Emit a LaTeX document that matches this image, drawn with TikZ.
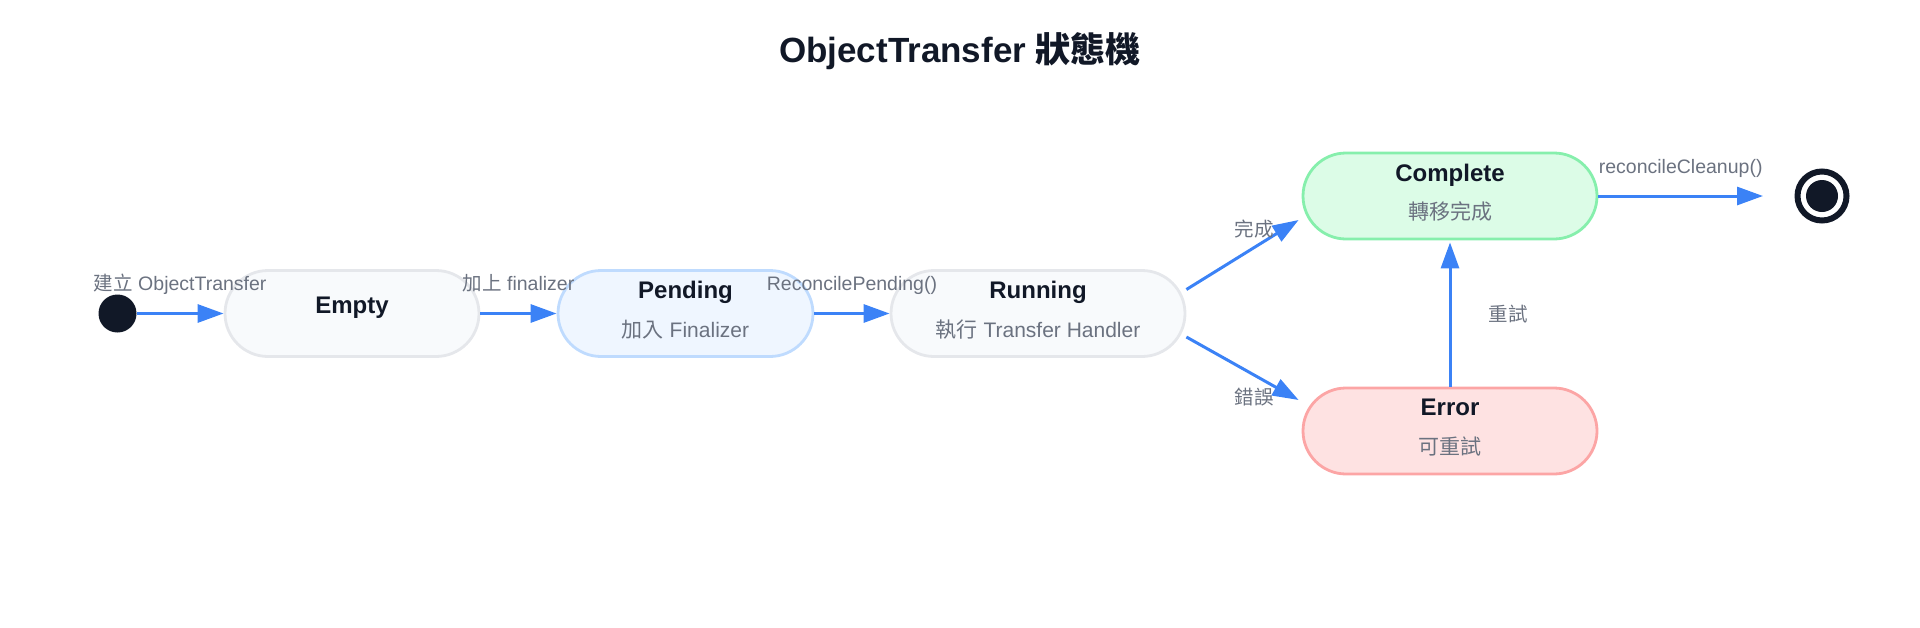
\documentclass[tikz,border=0pt]{standalone}
\usepackage{fontspec}
\setmainfont{Liberation Sans}
\newfontfamily\cjk{Noto Sans CJK TC}
\usetikzlibrary{arrows.meta,positioning,calc}

\definecolor{flowblue}{HTML}{3B82F6}
\definecolor{inkdark}{HTML}{111827}
\definecolor{inkgray}{HTML}{6B7280}
\definecolor{plainfill}{HTML}{F8FAFC}
\definecolor{plainline}{HTML}{E5E7EB}
\definecolor{pendfill}{HTML}{EFF6FF}
\definecolor{pendline}{HTML}{BFDBFE}
\definecolor{donefill}{HTML}{DCFCE7}
\definecolor{doneline}{HTML}{86EFAC}
\definecolor{errfill}{HTML}{FEE2E2}
\definecolor{errline}{HTML}{FCA5A5}

\begin{document}
\begin{tikzpicture}[x=1pt, y=-1pt,
	statebox/.style={rectangle, rounded corners=43pt, minimum height=86pt, line width=2.8pt, inner sep=0},
	statename/.style={text=inkdark, font=\fontsize{24}{28}\selectfont\bfseries, text height=17pt, text depth=0pt, inner sep=0},
	statedesc/.style={text=inkgray, font=\fontsize{21}{25}\selectfont, text height=15pt, text depth=0pt, inner sep=0},
	edgelabel/.style={text=inkgray, font=\fontsize{19.5}{23}\selectfont, text height=14pt, text depth=0pt, inner sep=0},
	flow/.style={draw=flowblue, line width=3pt, -{Triangle[length=26pt,width=18pt]}}]
	\useasboundingbox (0,0) rectangle (1920,627);
	
	% Title
	\node[text=inkdark, font=\fontsize{35}{40}\selectfont\bfseries] (title) at (960,51) {ObjectTransfer {\cjk 狀態機}};
	
	% Start and end points
	\node[circle, fill=inkdark, minimum size=38pt, inner sep=0] (start) at (117.5,313.5) {};
	\node[circle, draw=inkdark, line width=6pt, minimum size=49pt, inner sep=0] (final) at (1822,196) {};
	\node[circle, fill=inkdark, minimum size=32pt, inner sep=0] (finaldot) at (final.center) {};
	
	% States
	\node[statebox, fill=plainfill, draw=plainline, minimum width=254pt] (empty) at (352,313.5) {};
	\node[statebox, fill=pendfill, draw=pendline, minimum width=255pt] (pending) at (685.5,313.5) {};
	\node[statebox, fill=plainfill, draw=plainline, minimum width=294pt] (running) at (1038,313.5) {};
	\node[statebox, fill=donefill, draw=doneline, minimum width=294pt] (complete) at (1450,196) {};
	\node[statebox, fill=errfill, draw=errline, minimum width=294pt] (error) at (1450,431) {};
	
	% State texts
	\node[statename] (emptyname) at ($(empty.center)+(0,-8.5)$) {Empty};
	\node[statename] (pendingname) at ($(pending.center)+(0,-23.5)$) {Pending};
	\node[statedesc] (pendingdesc) at ($(pending.center)+(0,16.5)$) {{\cjk 加入} Finalizer};
	\node[statename] (runningname) at ($(running.center)+(0,-23.5)$) {Running};
	\node[statedesc] (runningdesc) at ($(running.center)+(0,16.5)$) {{\cjk 執行} Transfer Handler};
	\node[statename] (completename) at ($(complete.center)+(0,-23)$) {Complete};
	\node[statedesc] (completedesc) at ($(complete.center)+(0,16)$) {\cjk 轉移完成};
	\node[statename] (errorname) at ($(error.center)+(0,-24.5)$) {Error};
	\node[statedesc] (errordesc) at ($(error.center)+(0,16)$) {\cjk 可重試};
	
	% Transitions
	\draw[flow] (start) -- (empty) node[edgelabel, midway, yshift=30.5pt] (createlabel) {{\cjk 建立} ObjectTransfer};
	\draw[flow] (empty) -- (pending) node[edgelabel, midway, yshift=30.5pt] (finlabel) {{\cjk 加上} finalizer};
	\draw[flow] (pending) -- (running) node[edgelabel, midway, yshift=30.5pt] (reclabel) {ReconcilePending()};
	\draw[flow] ($(running.east)+(0,-24)$) -- ($(complete.west)+(-3,24)$);
	\node[edgelabel] (donelabel) at (1254,229) {\cjk 完成};
	\draw[flow] ($(running.east)+(0,23.5)$) -- ($(error.west)+(-3,-31)$);
	\node[edgelabel] (errlabel) at (1254,397) {\cjk 錯誤};
	\draw[flow] (error.north) -- ($(complete.south)+(0,2)$) node[edgelabel, midway, xshift=58pt] (retrylabel) {\cjk 重試};
	
	% Cleanup
	\coordinate (cleanupend) at (1763,196);
	\draw[flow] (complete.east) -- (cleanupend) node[edgelabel, midway, yshift=30pt] (cleanlabel) {reconcileCleanup()};
\end{tikzpicture}
\end{document}
